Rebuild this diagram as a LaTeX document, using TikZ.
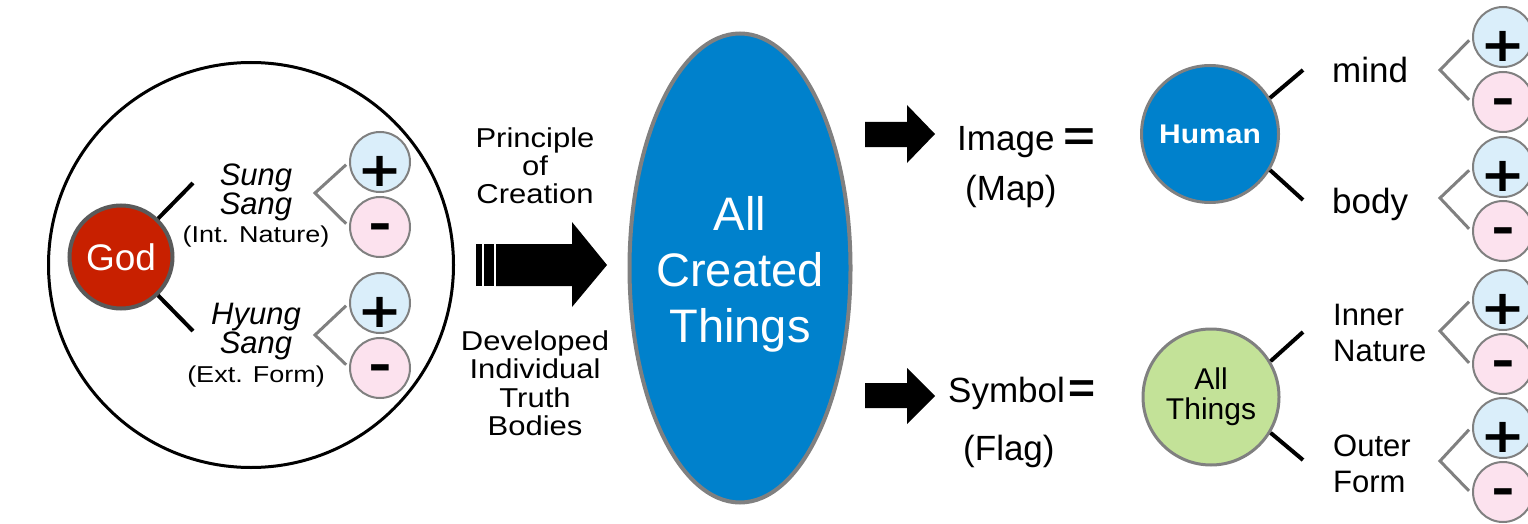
\documentclass[tikz,border=0pt]{standalone}
\usepackage{fontspec}
\setmainfont{Liberation Sans}
\newfontfamily\signfont{DejaVu Sans}
\newfontfamily\signfontb{DejaVu Sans Bold}
\usepackage{graphicx}
\usetikzlibrary{shapes.geometric}
\definecolor{godred}{RGB}{200,32,0}
\definecolor{cblue}{RGB}{0,129,204}
\definecolor{cgreen}{RGB}{195,226,152}
\definecolor{pblue}{RGB}{218,238,250}
\definecolor{mpink}{RGB}{252,226,238}
\definecolor{bgray}{RGB}{128,128,128}
\definecolor{dgray}{RGB}{90,90,90}
\newcommand{\fs}[2]{\fontsize{#1}{#2}\selectfont}
\newcommand{\vsq}[1]{\scalebox{1}[0.88]{#1}}
\newcommand{\eqsign}[1]{{\fs{42}{42}\bfseries\scalebox{#1}[1]{=}}}
\newcommand{\plussign}{\scalebox{1.12}[1]{\signfontb\fs{48}{48}+}}
\newcommand{\minussign}{\scalebox{1.3}[1]{\signfontb\fs{44}{44}-}}
\begin{document}
\begin{tikzpicture}[x=1pt,y=-1pt,
  plusc/.style={circle, draw=bgray, line width=2pt, fill=pblue, minimum size=60pt, inner sep=0pt,
     label={[yshift=-9pt, inner sep=0pt]center:\plussign}},
  minusc/.style={circle, draw=bgray, line width=2pt, fill=mpink, minimum size=60pt, inner sep=0pt,
     label={[yshift=-5pt, inner sep=0pt]center:\minussign}},
  brk/.style={draw=bgray, line width=3pt},
  stem/.style={draw=black, line width=4pt},
  txt/.style={inner sep=0pt, font=\fs{35}{36}},
  blockarrow/.style={fill=black},
]
\useasboundingbox (0,0) rectangle (1528,524);

% ---------- left: God circle ----------
\node[circle, draw=black, line width=3pt, minimum size=405pt, inner sep=0pt] (outer) at (251,265) {};
\node[circle, fill=godred, draw=dgray, line width=4pt, minimum size=103pt, inner sep=0pt,
      text=white, font=\fs{37}{37}] (god) at (121,257) {God};

\node[align=center, inner sep=0pt, font=\fs{31}{28}\itshape] (sung) at (256,206)
  {Sung\\Sang\\{\upshape\fs{27}{28}\scalebox{1}[0.85]{(Int. Nature)}}};
\node[align=center, inner sep=0pt, font=\fs{31}{29}\itshape] (hyung) at (256,345)
  {Hyung\\Sang\\{\upshape\fs{27}{29}\scalebox{1}[0.85]{(Ext. Form)}}};

\coordinate (s1) at (193,183);
\coordinate (s2) at (193,331);
\draw[stem] (god.46) -- (s1);
\draw[stem] (god.-46) -- (s2);

\node[plusc]  (p1) at (380,162) {};
\node[minusc] (m1) at (380,227) {};
\node[plusc]  (p2) at (380,303) {};
\node[minusc] (m2) at (380,368) {};
\coordinate (b1) at (315,193);
\coordinate (b2) at (315,335);
\draw[brk] ([xshift=-3pt]p1.185) -- (b1) -- ([xshift=-3pt]m1.174);
\draw[brk] ([xshift=-3pt]p2.185) -- (b2) -- ([xshift=-3pt]m2.174);

% ---------- middle ----------
\node[align=center, inner sep=0pt, font=\fs{31}{28}] (poc) at (535,166)
  {\vsq{Principle}\\\vsq{of}\\\vsq{Creation}};
\fill[blockarrow] (476,244) rectangle (482,286);
\fill[blockarrow] (484,244) rectangle (494,286);
\fill[blockarrow] (496,244) -- (572,244) -- (572,222) -- (607,265) -- (572,307) -- (572,286) -- (496,286) -- cycle;
\node[align=center, inner sep=0pt, font=\fs{31}{28.5}] (dev) at (535,383)
  {\vsq{Developed}\\\vsq{Individual}\\\vsq{Truth}\\\vsq{Bodies}};

\node[ellipse, fill=cblue, draw=bgray, line width=4pt, minimum width=221pt, minimum height=469pt, inner sep=0pt,
      label={[align=center, text=white, font=\fs{47}{56}, yshift=-6pt, inner sep=0pt]center:All\\Created\\Things}]
      (act) at (740,268) {};

% ---------- right arrows and texts ----------
\fill[blockarrow] (865,122) -- (907,122) -- (907,105) -- (935,134) -- (907,163) -- (907,147) -- (865,147) -- cycle;
\fill[blockarrow] (865,383) -- (907,383) -- (907,368) -- (935,396) -- (907,424) -- (907,408) -- (865,408) -- cycle;

\node[txt, anchor=base west] (img) at (957,150) {Image\hspace{9pt}\eqsign{1.3}};
\node[txt, anchor=base west] (map) at (965,200) {(Map)};
\node[txt, anchor=base west] (sym) at (948,402) {Symbol\hspace{4pt}\eqsign{1.1}};
\node[txt, anchor=base west] (flag) at (963,460) {(Flag)};

% ---------- Human ----------
\node[circle, fill=cblue, draw=bgray, line width=3pt, minimum size=137pt, inner sep=0pt,
      text=white, font=\fs{30}{30}\bfseries] (human) at (1210,134) {\scalebox{1}[0.9]{Human}};
\coordinate (h1) at (1303,70);
\coordinate (h2) at (1303,200);
\draw[stem] (human.31) -- (h1);
\draw[stem] (human.-31) -- (h2);
\node[txt, anchor=base west] (mind) at (1332,83) {mind};
\node[txt, anchor=base west] (body) at (1332,213) {body};

% ---------- All Things ----------
\node[circle, fill=cgreen, draw=bgray, line width=3pt, minimum size=136pt, inner sep=0pt,
      align=center, font=\fs{30}{30}] (things) at (1211,397) {All\\Things};
\coordinate (t1) at (1303,332);
\coordinate (t2) at (1303,460);
\draw[stem] (things.31) -- (t1);
\draw[stem] (things.-31) -- (t2);
\node[align=left, anchor=west, inner sep=0pt, font=\fs{31}{36}] (inner) at (1333,333) {Inner\\Nature};
\node[align=left, anchor=west, inner sep=0pt, font=\fs{31}{36}] (outerform) at (1333,464) {Outer\\Form};

% ---------- right +/- circles ----------
\node[plusc]  (rp1) at (1503,37) {};
\node[minusc] (rm1) at (1503,102) {};
\node[plusc]  (rp2) at (1503,167) {};
\node[minusc] (rm2) at (1503,231) {};
\node[plusc]  (rp3) at (1503,300) {};
\node[minusc] (rm3) at (1503,364) {};
\node[plusc]  (rp4) at (1503,428) {};
\node[minusc] (rm4) at (1503,492) {};
\coordinate (rb1) at (1440,70);
\coordinate (rb2) at (1440,198);
\coordinate (rb3) at (1440,331);
\coordinate (rb4) at (1440,461);
\draw[brk] ([xshift=-3pt]rp1.186) -- (rb1) -- ([xshift=-3pt]rm1.176);
\draw[brk] ([xshift=-3pt]rp2.186) -- (rb2) -- ([xshift=-3pt]rm2.176);
\draw[brk] ([xshift=-3pt]rp3.183) -- (rb3) -- ([xshift=-3pt]rm3.178);
\draw[brk] ([xshift=-3pt]rp4.183) -- (rb4) -- ([xshift=-3pt]rm4.178);
\end{tikzpicture}
\end{document}
